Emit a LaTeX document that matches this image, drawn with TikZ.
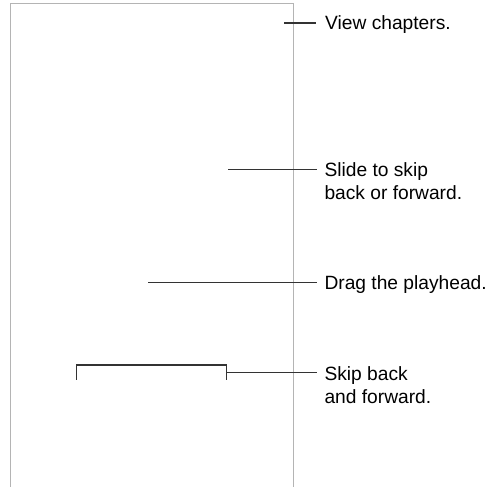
\documentclass[tikz,border=0pt]{standalone}
\usepackage{fontspec}
\setmainfont{Liberation Sans}
\definecolor{framegray}{HTML}{B4B4B4}
\definecolor{callout}{HTML}{333333}
\newcommand{\twolinelabel}[2]{\vtop{\baselineskip=23.4pt\hbox{#1}\hbox{#2}}}
\begin{document}
\begin{tikzpicture}[x=1pt,y=-1pt,
  frameline/.style={draw=framegray,line width=1.0pt},
  calloutline/.style={draw=callout,line width=1.3pt},
  lbl/.style={anchor=base west,inner sep=0pt,font=\fontsize{19.2}{23.4}\selectfont,text=black}]
\useasboundingbox (0,0) rectangle (493,487);
% device frame
\coordinate (fbl) at (10,492);
\coordinate (ftl) at (10,4);
\coordinate (ftr) at (293,4);
\coordinate (fbr) at (293,492);
\draw[frameline] (fbl) -- (ftl) -- (ftr) -- (fbr);
% View chapters
\node[lbl] (vc) at (325,29.5) {View chapters.};
\coordinate (vcs) at (284,23);
\coordinate (vce) at (315.5,23);
\draw[calloutline] (vcs) -- (vce);
% Slide to skip
\node[lbl] (ss) at (324.3,176.5) {\twolinelabel{Slide to skip}{back or forward.}};
\coordinate (sss) at (228,169.5);
\coordinate (sse) at (316.7,169.5);
\draw[calloutline] (sss) -- (sse);
% Drag the playhead
\node[lbl] (dp) at (324.3,289.5) {Drag the playhead.};
\coordinate (dps) at (148.3,282.8);
\coordinate (dpe) at (316.7,282.8);
\draw[calloutline] (dps) -- (dpe);
% Skip back and forward
\node[lbl] (sb) at (324.3,380) {\twolinelabel{Skip back}{and forward.}};
\coordinate (bl) at (76.3,379.5);
\coordinate (bt1) at (76.3,365);
\coordinate (bt2) at (226.8,365);
\coordinate (br) at (226.8,379.5);
\coordinate (bm) at (226.8,372.7);
\coordinate (bme) at (316.7,372.7);
\draw[calloutline] (bl) -- (bt1) -- (bt2) -- (br);
\draw[calloutline] (bm) -- (bme);
\end{tikzpicture}
\end{document}
